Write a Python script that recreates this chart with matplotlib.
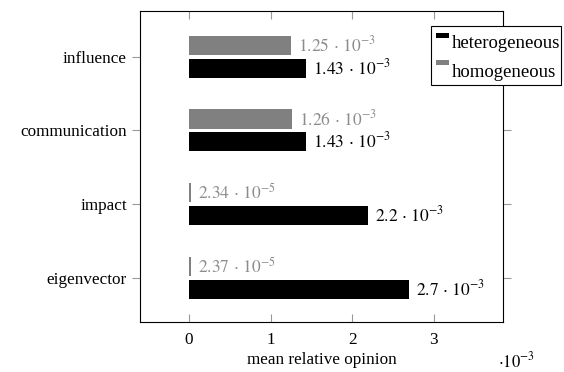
import matplotlib
matplotlib.use('Agg')
import matplotlib.pyplot as plt
from matplotlib.patches import Rectangle

plt.rcParams['font.family'] = ['Liberation Serif', 'DejaVu Serif']
plt.rcParams['mathtext.fontset'] = 'stix'

# data (x values in units of 1e-3)
categories = ['eigenvector', 'impact', 'communication', 'influence']
hetero = [2.7, 2.2, 1.43, 1.43]
homo = [0.0237, 0.0234, 1.26, 1.25]
hetero_labels = [r'$2.7\,\cdot\,10^{-3}$', r'$2.2\,\cdot\,10^{-3}$',
                 r'$1.43\,\cdot\,10^{-3}$', r'$1.43\,\cdot\,10^{-3}$']
homo_labels = [r'$2.37\,\cdot\,10^{-5}$', r'$2.34\,\cdot\,10^{-5}$',
               r'$1.26\,\cdot\,10^{-3}$', r'$1.25\,\cdot\,10^{-3}$']
series_names = ['heterogeneous', 'homogeneous']
series_colors = ['black', '#808080']
xticks = [0, 1, 2, 3]

W, H = 564, 372
fig = plt.figure(figsize=(W / 100, H / 100), dpi=100)
ax = fig.add_axes([140 / W, 1 - 322 / H, (503 - 140) / W, (322 - 11) / H])

ypos = list(range(len(categories)))
h = 0.26
off = 0.155
ax.barh([y - off for y in ypos], hetero, height=h, color=series_colors[0])
ax.barh([y + off for y in ypos], homo, height=h, color=series_colors[1])

for y, v, t in zip(ypos, hetero, hetero_labels):
    ax.annotate(t, (v, y - off), xytext=(5, 0), textcoords='offset points',
                va='center', ha='left', fontsize=12.5, color='black')
for y, v, t in zip(ypos, homo, homo_labels):
    ax.annotate(t, (v, y + off), xytext=(5, 0), textcoords='offset points',
                va='center', ha='left', fontsize=12.5, color='#8c8c8c')

ax.set_xlim(-0.6, 3.85)
ax.set_ylim(-0.6, 3.62)
ax.set_yticks(ypos)
ax.set_yticklabels(categories, fontsize=12.3)
ax.set_xticks(xticks)
ax.set_xticklabels([str(t) for t in xticks], fontsize=12.3)
ax.tick_params(axis='x', direction='in', top=True, length=6, color='#999999', pad=7)
ax.tick_params(axis='y', direction='out', right=True, length=6, color='#999999', pad=3.5)
for s in ax.spines.values():
    s.set_linewidth(0.8)
ax.set_xlabel('mean relative opinion', fontsize=12.3, labelpad=3)
ax.text(0.985, -0.128, r'$\cdot10^{-3}$', transform=ax.transAxes, fontsize=12,
        ha='left', va='center')

# legend drawn by hand (small bar icons at the top of each entry)
def fx(px):
    return px / W

def fy(py):
    return 1 - py / H

fig.patches.append(Rectangle((fx(431), fy(85)), fx(561) - fx(431), fy(26) - fy(85),
                             transform=fig.transFigure, facecolor='white',
                             edgecolor='black', linewidth=0.8, zorder=5))
for i, (name, col) in enumerate(zip(series_names, series_colors)):
    top = 33 + 27 * i
    fig.patches.append(Rectangle((fx(436), fy(top + 5)), fx(449) - fx(436), fy(top) - fy(top + 5),
                                 transform=fig.transFigure, facecolor=col,
                                 edgecolor=col, linewidth=0, zorder=6))
    fig.text(fx(452), fy(48 + 29 * i), name, fontsize=13.5, ha='left',
             va='baseline', zorder=6)

fig.savefig('out.png', dpi=100)
